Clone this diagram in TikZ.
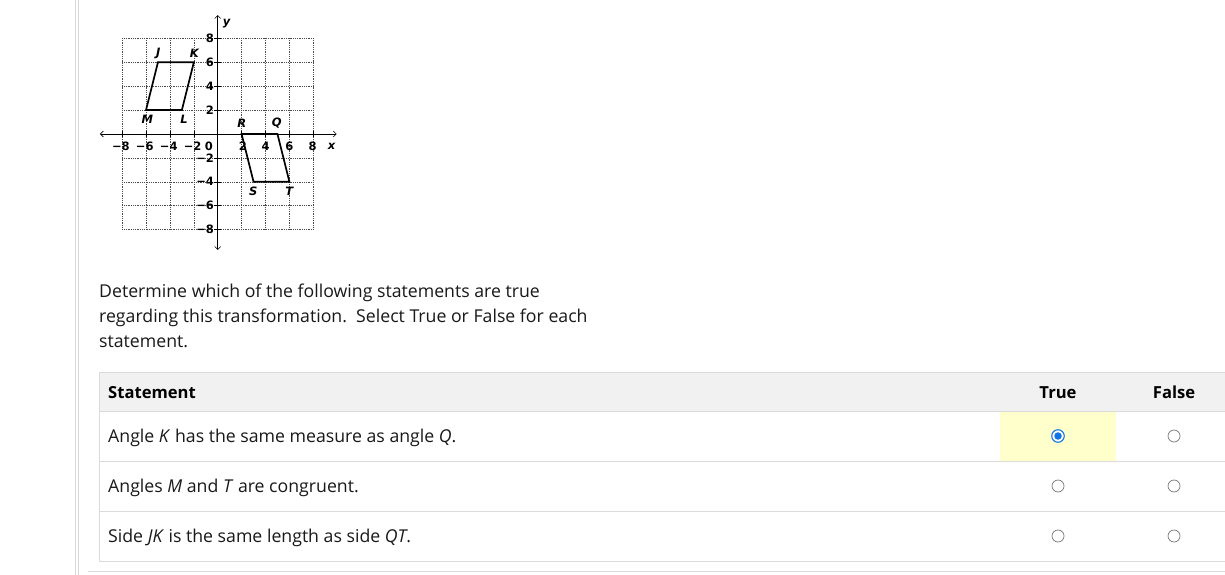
\documentclass[tikz,border=0pt]{standalone}
\usepackage{fontspec}
\setmainfont{Open Sans}
\newfontfamily\graphfont{DejaVu Sans}
\usetikzlibrary{arrows.meta}
\definecolor{gridc}{rgb}{0.3,0.3,0.3}
\definecolor{linec}{rgb}{0.86,0.86,0.86}
\definecolor{sidec}{rgb}{0.85,0.85,0.85}
\definecolor{headbg}{rgb}{0.945,0.945,0.945}
\definecolor{hilite}{rgb}{1,1,0.8}
\definecolor{radiob}{rgb}{0.07,0.45,0.9}
\definecolor{radiog}{rgb}{0.45,0.45,0.45}
\tikzset{
  gridline/.style={gridc, line width=0.6pt, dash pattern=on 0.8pt off 1pt},
  axisline/.style={black, line width=0.6pt, {Straight Barb[length=3pt,width=6pt]}-{Straight Barb[length=3pt,width=6pt]}},
  tick/.style={black, line width=0.6pt},
  figure/.style={black, line width=1.7pt, line join=miter},
  numlab/.style={font=\graphfont\bfseries\fontsize{11.5}{12}\selectfont, inner sep=0pt},
  ptlab/.style={font=\graphfont\bfseries\itshape\fontsize{11.5}{12}\selectfont, inner sep=0pt},
  para/.style={anchor=base west, inner sep=0pt, font=\fontsize{17.7}{20}\selectfont, text=black!90},
  cell/.style={anchor=base west, inner sep=0pt, font=\fontsize{17.7}{20}\selectfont, text=black!90},
  headtxt/.style={anchor=base, inner sep=0pt, font=\bfseries\fontsize{16.6}{18}\selectfont},
  tline/.style={linec, line width=1pt},
  radio/.style={circle, draw=radiog, fill=white, line width=0.7pt, minimum size=12pt, inner sep=0pt},
  radioon/.style={circle, draw=radiob, fill=white, line width=1.1pt, minimum size=12.5pt, inner sep=0pt},
  radiodot/.style={circle, fill=radiob, minimum size=7.5pt, inner sep=0pt},
}
\begin{document}
\begin{tikzpicture}[x=1pt,y=-1pt]
\useasboundingbox (0,0) rectangle (1225,575);
\fill[white] (0,0) rectangle (1225,575);
% page side lines
\draw[sidec, line width=1pt] (75.5,0) -- (75.5,575);
\draw[sidec, line width=1pt] (78.5,0) -- (78.5,575);

% ---------- coordinate graph ----------
\begin{scope}[shift={(217.7,134)}, x=11.95pt, y=11.95pt]
  \foreach \v in {-8,-6,...,8} {
    \draw[gridline] (\v,-8) -- (\v,8);
    \draw[gridline] (-8,\v) -- (8,\v);
  }
  \coordinate (xl) at (-9.85,0);
  \coordinate (xr) at (9.95,0);
  \coordinate (yb) at (0,-9.7);
  \coordinate (yt) at (0,9.95);
  \draw[axisline] (xl) -- (xr);
  \draw[axisline] (yb) -- (yt);
  \foreach \v in {-8,-6,-4,-2,2,4,6,8} {
    \draw[tick] (\v,-0.28) -- (\v,0.28);
    \draw[tick] (-0.28,\v) -- (0.28,\v);
  }
  % x labels
  \node[numlab] (xm8) at (-8.1,-1.06) {−8};
  \node[numlab] (xm6) at (-6.1,-1.06) {−6};
  \node[numlab] (xm4) at (-4.1,-1.06) {−4};
  \node[numlab] (xm2) at (-2.1,-1.06) {−2};
  \node[numlab] (x0) at (-0.73,-1.06) {0};
  \node[numlab] (x2) at (2.1,-1.06) {2};
  \node[numlab] (x4) at (4,-1.06) {4};
  \node[numlab] (x6) at (6,-1.06) {6};
  \node[numlab] (x8) at (7.95,-1.06) {8};
  \node[ptlab] (xlab) at (9.54,-1.06) {x};
  % y labels
  \node[numlab, anchor=east] (y8) at (-0.3,8) {8};
  \node[numlab, anchor=east] (y6) at (-0.3,6) {6};
  \node[numlab, anchor=east] (y4) at (-0.3,4) {4};
  \node[numlab, anchor=east] (y2) at (-0.3,2) {2};
  \node[numlab, anchor=east] (ym2) at (-0.3,-2) {−2};
  \node[numlab, anchor=east] (ym4) at (-0.3,-4) {−4};
  \node[numlab, anchor=east] (ym6) at (-0.3,-6) {−6};
  \node[numlab, anchor=east] (ym8) at (-0.3,-8) {−8};
  \node[ptlab] (ylab) at (0.75,9.2) {y};
  % figures
  \coordinate (J) at (-5,6);
  \coordinate (K) at (-2,6);
  \coordinate (L) at (-3,2);
  \coordinate (M) at (-6,2);
  \coordinate (R) at (2,0);
  \coordinate (Q) at (5,0);
  \coordinate (T) at (6,-4);
  \coordinate (S) at (3,-4);
  \draw[figure] (J) -- (K) -- (L) -- (M) -- cycle;
  \draw[figure] (R) -- (Q) -- (T) -- (S) -- cycle;
  \node[ptlab] (lJ) at (-4.97,6.75) {J};
  \node[ptlab] (lK) at (-1.96,6.75) {K};
  \node[ptlab] (lM) at (-5.89,1.23) {M};
  \node[ptlab] (lL) at (-2.82,1.23) {L};
  \node[ptlab] (lR) at (2.01,0.9) {R};
  \node[ptlab] (lQ) at (4.94,0.9) {Q};
  \node[ptlab] (lS) at (2.98,-4.83) {S};
  \node[ptlab] (lT) at (5.99,-4.83) {T};
\end{scope}

% ---------- instructions ----------
\node[para] (p1) at (99,297) {Determine which of the following statements are true};
\node[para] (p2) at (99,322) {regarding this transformation.\ \ Select True or False for each};
\node[para] (p3) at (99,347) {statement.};

% ---------- table ----------
\fill[headbg] (99,372) rectangle (1225,411);
\fill[hilite] (1000,411.5) rectangle (1116,460.5);
\draw[tline] (99,372) -- (1225,372);
\draw[tline] (99,411) -- (1225,411);
\draw[tline] (99,461) -- (1225,461);
\draw[tline] (99,511) -- (1225,511);
\draw[tline] (99,561) -- (1225,561);
\draw[tline] (99,372) -- (99,561);
\draw[tline] (88,571) -- (1225,571);

\node[headtxt, anchor=base west] (hs) at (108,398) {Statement};
\node[headtxt] (ht) at (1058,398) {True};
\node[headtxt] (hf) at (1174,398) {False};

\node[cell] (c1) at (108,442.5) {Angle \textit{K} has the same measure as angle \textit{Q}.};
\node[cell] (c2) at (108,492.5) {Angles \textit{M} and \textit{T} are congruent.};
\node[cell] (c3) at (108,542.5) {Side \textit{JK} is the same length as side \textit{QT}.};

\node[radioon] (r1t) at (1058,436) {};
\node[radiodot] (r1d) at (r1t.center) {};
\node[radio] (r1f) at (1174,436) {};
\node[radio] (r2t) at (1058,486) {};
\node[radio] (r2f) at (1174,486) {};
\node[radio] (r3t) at (1058,536) {};
\node[radio] (r3f) at (1174,536) {};
\end{tikzpicture}
\end{document}
